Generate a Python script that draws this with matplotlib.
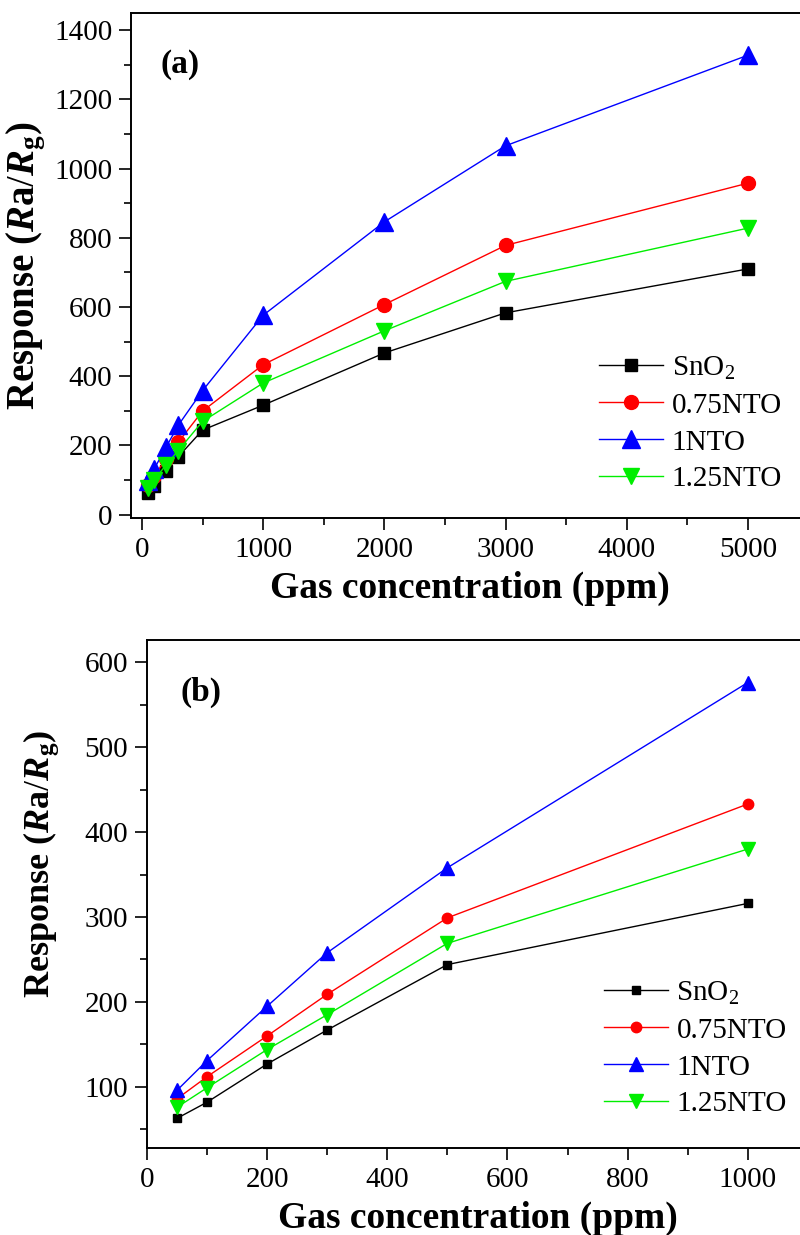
import matplotlib
matplotlib.use('Agg')
import matplotlib.pyplot as plt
from matplotlib.ticker import MultipleLocator

plt.rcParams['font.family'] = ['Liberation Serif', 'DejaVu Serif']
plt.rcParams['mathtext.fontset'] = 'custom'
plt.rcParams['mathtext.rm'] = 'Liberation Serif'
plt.rcParams['mathtext.it'] = 'Liberation Serif:italic'
plt.rcParams['mathtext.bf'] = 'Liberation Serif:bold'
plt.rcParams['mathtext.bfit'] = 'Liberation Serif:bold:italic'

# data
conc = [50, 100, 200, 300, 500, 1000, 2000, 3000, 5000]
sno2 = [63, 82, 127, 167, 244, 316, 467, 583, 710]
nto075 = [86, 112, 160, 209, 299, 433, 607, 778, 958]
nto1 = [96, 131, 195, 258, 358, 576, 846, 1066, 1328]
nto125 = [76, 99, 144, 185, 269, 380, 531, 674, 828]

names = ['SnO$_2$', '0.75NTO', '1NTO', '1.25NTO']
colors = ['black', 'red', 'blue', '#00ee00']
markers = ['s', 'o', '^', 'v']
size_a = [9, 10, 13, 12]
size_b = [6, 7.5, 10, 9.5]
values = [sno2, nto075, nto1, nto125]

fig = plt.figure(figsize=(8, 12.35), dpi=100)
ax1 = fig.add_axes([0.16375, 0.5806, 0.847, 0.4089])
ax2 = fig.add_axes([0.18375, 0.0704, 0.826, 0.4113])

ylabel = r'Response ($\mathbfit{R}\mathbf{a}/\mathbfit{R}_\mathbf{g}$)'

# (a) full range
for i in range(4):
    ax1.plot(conc, values[i], color=colors[i], marker=markers[i], markersize=size_a[i],
             lw=1.0, label=names[i])
ax1.set_xlim(-90, 5500)
ax1.set_ylim(-10, 1450)
ax1.xaxis.set_major_locator(MultipleLocator(1000))
ax1.xaxis.set_minor_locator(MultipleLocator(500))
ax1.yaxis.set_major_locator(MultipleLocator(200))
ax1.yaxis.set_minor_locator(MultipleLocator(100))
ax1.text(0.043, 0.897, '(a)', transform=ax1.transAxes, fontsize=24, fontweight='bold', va='center')
ax1.legend(loc='lower left', bbox_to_anchor=(0.66, 0.01), frameon=False, fontsize=21,
           handlelength=2.2, labelspacing=0.36, handletextpad=0.3, borderaxespad=0.3)
ax1.set_ylabel(ylabel, fontsize=28, fontweight='bold', labelpad=4)

# (b) low concentrations
n = 6
for i in range(4):
    ax2.plot(conc[:n], values[i][:n], color=colors[i], marker=markers[i], markersize=size_b[i],
             lw=1.0, label=names[i])
ax2.set_xlim(0, 1100)
ax2.set_ylim(28, 626)
ax2.xaxis.set_major_locator(MultipleLocator(200))
ax2.xaxis.set_minor_locator(MultipleLocator(100))
ax2.yaxis.set_major_locator(MultipleLocator(100))
ax2.yaxis.set_minor_locator(MultipleLocator(50))
ax2.text(0.05, 0.898, '(b)', transform=ax2.transAxes, fontsize=24, fontweight='bold', va='center')
ax2.legend(loc='lower left', bbox_to_anchor=(0.66, 0.02), frameon=False, fontsize=21,
           handlelength=2.2, labelspacing=0.36, handletextpad=0.3, borderaxespad=0.3)
ax2.set_ylabel(ylabel, fontsize=26, fontweight='bold')
ax2.yaxis.set_label_coords(-0.13, 0.56)

for ax in (ax1, ax2):
    for s in ax.spines.values():
        s.set_linewidth(1.4)
    ax.tick_params(which='both', direction='out', top=False, right=False, labelsize=21,
                   width=1.2, pad=5)
    ax.tick_params(which='major', length=8.5)
    ax.tick_params(which='minor', length=5)
    ax.set_xlabel('Gas concentration (ppm)', fontsize=27, fontweight='bold', labelpad=6)

fig.savefig('out.png', dpi=100)
